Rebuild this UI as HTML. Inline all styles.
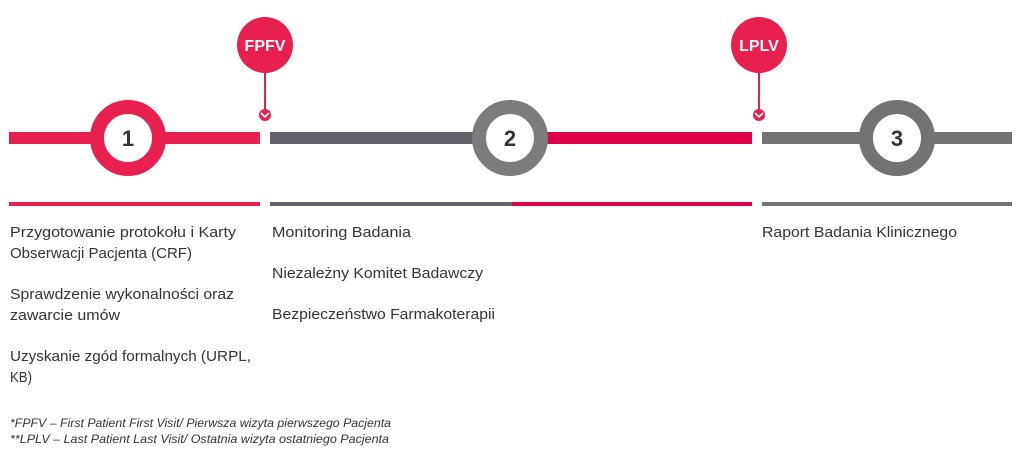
<!DOCTYPE html>
<html><head><meta charset="utf-8"><style>
html,body{margin:0;padding:0;background:#fff;width:1024px;height:451px;overflow:hidden}
svg{display:block}
text{font-family:"Liberation Sans",sans-serif;fill:#333}
</style></head><body>
<svg width="1024" height="451" viewBox="0 0 1024 451">
<!-- main bars -->
<rect x="9" y="132" width="251" height="12" fill="#e8204f"/>
<rect x="270" y="132" width="240" height="12" fill="#636269"/>
<rect x="510" y="132" width="242" height="12" fill="#e0004a"/>
<rect x="762" y="132" width="250" height="12" fill="#737373"/>
<!-- circles -->
<circle cx="128" cy="138" r="31" fill="#fff" stroke="#e8204f" stroke-width="14"/>
<circle cx="510" cy="138" r="31" fill="#fff" stroke="#7b7c7b" stroke-width="14"/>
<circle cx="897" cy="138" r="31" fill="#fff" stroke="#737373" stroke-width="14"/>
<text x="128" y="146" font-size="22" font-weight="bold" text-anchor="middle" fill="#444">1</text>
<text x="510" y="146" font-size="22" font-weight="bold" text-anchor="middle" fill="#444">2</text>
<text x="897" y="146" font-size="22" font-weight="bold" text-anchor="middle" fill="#444">3</text>
<!-- markers -->
<g fill="#e8204f" stroke="#e8204f">
<circle cx="265" cy="45" r="28" stroke="none"/>
<line x1="265" y1="70" x2="265" y2="112" stroke-width="2"/>
<circle cx="265" cy="115" r="6" stroke="none"/>
<circle cx="759" cy="45" r="28" stroke="none"/>
<line x1="759" y1="70" x2="759" y2="112" stroke-width="2"/>
<circle cx="759" cy="115" r="6" stroke="none"/>
</g>
<polyline points="261,113 265,117 269,113" fill="none" stroke="#fff" stroke-width="1.6"/>
<polyline points="755,113 759,117 763,113" fill="none" stroke="#fff" stroke-width="1.6"/>
<text x="265" y="51" font-size="16" font-weight="bold" text-anchor="middle" fill="#fff" style="fill:#fff">FPFV</text>
<text x="759" y="51" font-size="16" font-weight="bold" text-anchor="middle" style="fill:#fff">LPLV</text>
<!-- lower lines -->
<rect x="9" y="202" width="251" height="4" fill="#e8204f"/>
<rect x="270" y="202" width="242" height="4" fill="#636269"/>
<rect x="512" y="202" width="240" height="4" fill="#e0004a"/>
<rect x="762" y="202" width="250" height="4" fill="#737373"/>
<!-- text -->
<g font-size="14.5">
<text x="10" y="237" textLength="226" lengthAdjust="spacingAndGlyphs">Przygotowanie protokołu i Karty</text>
<text x="10" y="258" textLength="182" lengthAdjust="spacingAndGlyphs">Obserwacji Pacjenta (CRF)</text>
<text x="10" y="299" textLength="224" lengthAdjust="spacingAndGlyphs">Sprawdzenie wykonalności oraz</text>
<text x="10" y="320" textLength="110" lengthAdjust="spacingAndGlyphs">zawarcie umów</text>
<text x="10" y="361" textLength="241" lengthAdjust="spacingAndGlyphs">Uzyskanie zgód formalnych (URPL,</text>
<text x="10" y="382" textLength="22" lengthAdjust="spacingAndGlyphs">KB)</text>
<text x="272" y="237" textLength="139" lengthAdjust="spacingAndGlyphs">Monitoring Badania</text>
<text x="272" y="278" textLength="211" lengthAdjust="spacingAndGlyphs">Niezależny Komitet Badawczy</text>
<text x="272" y="319" textLength="223" lengthAdjust="spacingAndGlyphs">Bezpieczeństwo Farmakoterapii</text>
<text x="762" y="237" textLength="195" lengthAdjust="spacingAndGlyphs">Raport Badania Klinicznego</text>
</g>
<g font-size="12" font-style="italic">
<text x="10" y="427" textLength="381" lengthAdjust="spacingAndGlyphs">*FPFV – First Patient First Visit/ Pierwsza wizyta pierwszego Pacjenta</text>
<text x="10" y="443" textLength="379" lengthAdjust="spacingAndGlyphs">**LPLV – Last Patient Last Visit/ Ostatnia wizyta ostatniego Pacjenta</text>
</g>
</svg>
</body></html>
